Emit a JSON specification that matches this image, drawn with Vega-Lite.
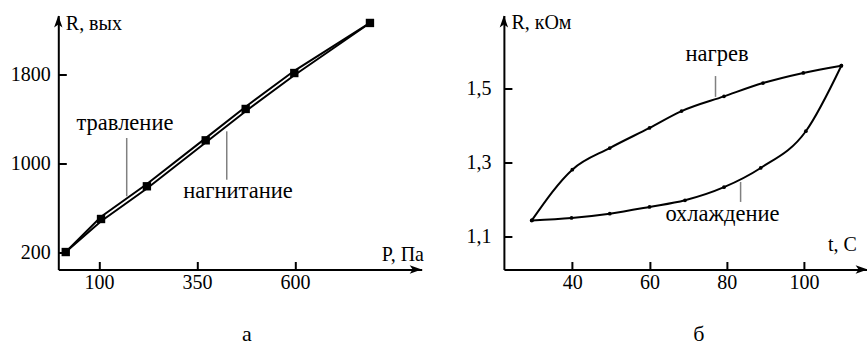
{
  "$schema": "https://vega.github.io/schema/vega-lite/v6.json",
  "padding": {"left": 10.3, "top": 12.5, "right": 0, "bottom": 0},
  "bounds": "flush",
  "spacing": 81.6,
  "config": {
    "view": {"stroke": null},
    "font": "'Liberation Serif', 'Times New Roman', serif",
    "axis": {
      "domainColor": "black", "domainWidth": 2, "tickColor": "black", "tickWidth": 2, "tickSize": -8,
      "grid": false, "labelFont": "'Liberation Serif', 'Times New Roman', serif", "labelFontSize": 20, "labelColor": "black",
      "titleFont": "'Liberation Serif', 'Times New Roman', serif", "titleFontSize": 20, "titleFontWeight": "normal", "titleColor": "black",
      "labelOverlap": false, "labelFlush": false
    },
    "title": {"font": "'Liberation Serif', 'Times New Roman', serif", "fontSize": 22, "fontWeight": "normal", "color": "black"}
  },
  "datasets": {
    "aLines": [
      {"x": 15, "y": 200, "s": "травление"}, {"x": 105, "y": 517, "s": "травление"}, {"x": 222, "y": 811, "s": "травление"},
      {"x": 372, "y": 1224, "s": "травление"}, {"x": 474, "y": 1506, "s": "травление"}, {"x": 598, "y": 1829, "s": "травление"},
      {"x": 791, "y": 2259, "s": "травление"},
      {"x": 15, "y": 200, "s": "нагнитание"}, {"x": 105, "y": 477, "s": "нагнитание"}, {"x": 222, "y": 771, "s": "нагнитание"},
      {"x": 372, "y": 1184, "s": "нагнитание"}, {"x": 474, "y": 1466, "s": "нагнитание"}, {"x": 598, "y": 1789, "s": "нагнитание"},
      {"x": 791, "y": 2259, "s": "нагнитание"}
    ],
    "aNodes": [
      {"x": 15, "y": 200}, {"x": 105, "y": 497}, {"x": 222, "y": 791}, {"x": 372, "y": 1204},
      {"x": 474, "y": 1486}, {"x": 598, "y": 1809}, {"x": 791, "y": 2259}
    ],
    "aLeaders": [
      {"x": 170.5, "y": 1225, "y2": 701},
      {"x": 425.7, "y": 1285, "y2": 850}
    ],
    "aText": [
      {"x": 166, "y": 1300, "label": "травление"},
      {"x": 454.5, "y": 686, "label": "нагнитание"}
    ],
    "aArrowUp": [{"x": -4, "y": 2326}],
    "aArrowRight": [{"x": 923, "y": 43}],
    "bLines": [
      {"x": 29.5, "y": 1.143, "s": "нагрев"}, {"x": 40, "y": 1.2805, "s": "нагрев"}, {"x": 49.7, "y": 1.339, "s": "нагрев"},
      {"x": 60, "y": 1.3935, "s": "нагрев"}, {"x": 68.3, "y": 1.439, "s": "нагрев"}, {"x": 79.3, "y": 1.479, "s": "нагрев"},
      {"x": 89.4, "y": 1.515, "s": "нагрев"}, {"x": 99.85, "y": 1.5425, "s": "нагрев"}, {"x": 109.7, "y": 1.562, "s": "нагрев"},
      {"x": 29.5, "y": 1.143, "s": "охлаждение"}, {"x": 39.8, "y": 1.1496, "s": "охлаждение"}, {"x": 49.7, "y": 1.1612, "s": "охлаждение"},
      {"x": 60, "y": 1.1794, "s": "охлаждение"}, {"x": 69.2, "y": 1.1975, "s": "охлаждение"}, {"x": 79.3, "y": 1.233, "s": "охлаждение"},
      {"x": 88.8, "y": 1.285, "s": "охлаждение"}, {"x": 100.5, "y": 1.3845, "s": "охлаждение"}, {"x": 109.7, "y": 1.562, "s": "охлаждение"}
    ],
    "bLeaders": [
      {"x": 77.1, "y": 1.534, "y2": 1.4775},
      {"x": 83.6, "y": 1.247, "y2": 1.193}
    ],
    "bText": [
      {"x": 77.5, "y": 1.574, "label": "нагрев"},
      {"x": 78.9, "y": 1.141, "label": "охлаждение"}
    ],
    "bArrowUp": [{"x": 22.28, "y": 1.698}],
    "bArrowRight": [{"x": 116.5, "y": 1.01}]
  },
  "hconcat": [
    {
      "width": 363.4,
      "height": 254,
      "title": {"text": "а", "orient": "bottom", "anchor": "middle", "offset": 32, "dx": 7},
      "encoding": {
        "x": {"field": "x", "type": "quantitative",
              "scale": {"domain": [-4, 923], "nice": false, "zero": false},
              "axis": {"values": [100, 350, 600], "format": "d", "labelPadding": 11, "title": "P, Па",
                       "titleAlign": "left", "titleBaseline": "alphabetic", "titleX": 323, "titleY": -9}},
        "y": {"field": "y", "type": "quantitative",
              "scale": {"domain": [43, 2326], "nice": false, "zero": false},
              "axis": {"values": [200, 1000, 1800], "format": "d", "labelPadding": 16, "title": "R, вых", "titleAngle": 0,
                       "titleAlign": "left", "titleBaseline": "alphabetic", "titleX": 7, "titleY": 14}}
      },
      "layer": [
        {"data": {"name": "aLines"}, "mark": {"type": "line", "color": "black", "strokeWidth": 2},
         "encoding": {"detail": {"field": "s"}}},
        {"data": {"name": "aNodes"}, "mark": {"type": "point", "shape": "square", "filled": true, "color": "black", "size": 70, "opacity": 1}},
        {"data": {"name": "aLeaders"}, "mark": {"type": "rule", "color": "#808080", "strokeWidth": 1.5},
         "encoding": {"y2": {"field": "y2"}}},
        {"data": {"name": "aText"}, "mark": {"type": "text", "font": "'Liberation Serif', 'Times New Roman', serif", "fontSize": 22.5, "align": "center", "baseline": "alphabetic", "color": "black"},
         "encoding": {"text": {"field": "label"}}},
        {"data": {"name": "aArrowUp"}, "mark": {"type": "point", "shape": "M0,0L-0.35,1L0,0.75L0.35,1Z", "filled": true, "color": "black", "size": 576, "opacity": 1}},
        {"data": {"name": "aArrowRight"}, "mark": {"type": "point", "shape": "M0,0L-1,-0.35L-0.75,0L-1,0.35Z", "filled": true, "color": "black", "size": 576, "opacity": 1}}
      ]
    },
    {
      "width": 363.7,
      "height": 254,
      "title": {"text": "б", "orient": "bottom", "anchor": "middle", "offset": 32, "dx": 13},
      "encoding": {
        "x": {"field": "x", "type": "quantitative",
              "scale": {"domain": [22.28, 116.5], "nice": false, "zero": false},
              "axis": {"values": [40, 60, 80, 100], "format": "d", "labelPadding": 11, "title": "t, С",
                       "titleAlign": "left", "titleBaseline": "alphabetic", "titleX": 323.5, "titleY": -19}},
        "y": {"field": "y", "type": "quantitative",
              "scale": {"domain": [1.01, 1.698], "nice": false, "zero": false},
              "axis": {"values": [1.1, 1.3, 1.5], "labelPadding": 21, "title": "R, кОм", "titleAngle": 0,
                       "labelExpr": "replace(format(datum.value, '.1f'), '.', ',')",
                       "titleAlign": "left", "titleBaseline": "alphabetic", "titleX": 7, "titleY": 13}}
      },
      "layer": [
        {"data": {"name": "bLines"}, "mark": {"type": "line", "color": "black", "strokeWidth": 2, "interpolate": "monotone"},
         "encoding": {"detail": {"field": "s"}}},
        {"data": {"name": "bLines"}, "mark": {"type": "point", "shape": "circle", "filled": true, "color": "black", "size": 14, "opacity": 1}},
        {"data": {"name": "bLeaders"}, "mark": {"type": "rule", "color": "#808080", "strokeWidth": 1.5},
         "encoding": {"y2": {"field": "y2"}}},
        {"data": {"name": "bText"}, "mark": {"type": "text", "font": "'Liberation Serif', 'Times New Roman', serif", "fontSize": 22.5, "align": "center", "baseline": "alphabetic", "color": "black"},
         "encoding": {"text": {"field": "label"}}},
        {"data": {"name": "bArrowUp"}, "mark": {"type": "point", "shape": "M0,0L-0.35,1L0,0.75L0.35,1Z", "filled": true, "color": "black", "size": 576, "opacity": 1}},
        {"data": {"name": "bArrowRight"}, "mark": {"type": "point", "shape": "M0,0L-1,-0.35L-0.75,0L-1,0.35Z", "filled": true, "color": "black", "size": 576, "opacity": 1}}
      ]
    }
  ]
}
